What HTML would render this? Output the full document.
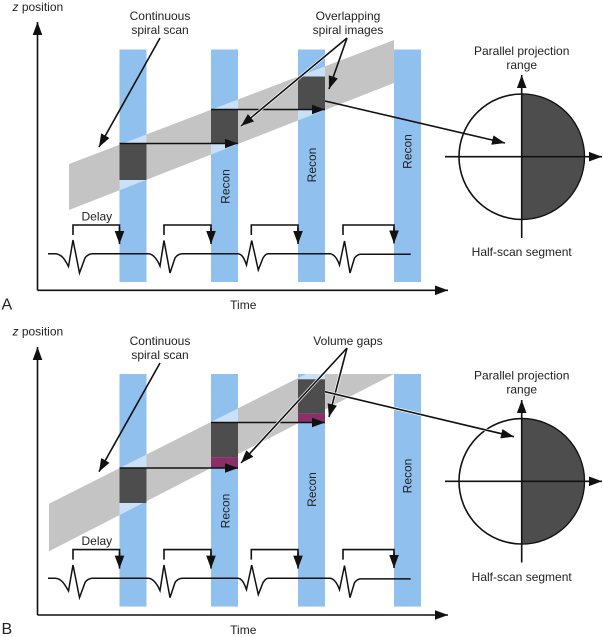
<!DOCTYPE html>
<html><head><meta charset="utf-8"><style>
html,body{margin:0;padding:0;background:#fff}
svg{display:block}
text{font-family:"Liberation Sans",sans-serif;font-size:12px;fill:#222}
.m{text-anchor:middle}
.l{fill:none;stroke:#111;stroke-width:1.6}
.h{fill:none;stroke:#fff;stroke-width:3}
.a{fill:none;stroke:#111;stroke-width:1.6;marker-end:url(#ar)}
.bar{fill:#8fc0ee}
.ecg{fill:none;stroke:#111;stroke-width:1.5;stroke-linejoin:miter}
</style></head><body>
<svg xmlns="http://www.w3.org/2000/svg" width="603" height="637" viewBox="0 0 603 637">
<defs>
<marker id="ar" markerUnits="userSpaceOnUse" markerWidth="15" markerHeight="11" refX="13" refY="5.5" orient="auto"><path d="M0,0.7 L13,5.5 L0,10.3 Z" fill="#111"/></marker>
<clipPath id="bars"><rect x="119.5" y="0" width="27" height="637"/><rect x="211" y="0" width="27" height="637"/><rect x="298" y="0" width="27" height="637"/><rect x="394" y="0" width="27" height="637"/></clipPath>
</defs>
<rect width="603" height="637" fill="#fff"/>

<!-- PANEL A -->
<polygon points="69,164 394,40 394,83 69,210" fill="#c4c4c4"/>
<rect class="bar" x="119.5" y="49.5" width="27" height="232.5"/>
<rect class="bar" x="211" y="49.5" width="27" height="232.5"/>
<rect class="bar" x="298" y="49.5" width="27" height="232.5"/>
<rect class="bar" x="394" y="49.5" width="27" height="232.5"/>
<polygon points="69,164 394,40 394,83 69,210" fill="#c9e0f7" clip-path="url(#bars)"/>
<rect x="119.5" y="143.5" width="27" height="36.5" fill="#4d4d4d"/>
<rect x="211" y="109.5" width="27" height="34" fill="#4d4d4d"/>
<rect x="298" y="76.5" width="27" height="33" fill="#4d4d4d"/>
<path class="a" d="M119.5,143.5 H238"/>
<path class="a" d="M211,109.5 H325"/>
<path class="a" d="M37.5,290.3 V22"/>
<path class="a" d="M37.5,290.3 H448"/>
<path class="h" d="M347,38 L241,126"/>
<path class="a" d="M160,38 L99,147"/>
<path class="a" d="M347,38 L241,126"/>
<path class="a" d="M347,38 L329,89"/>
<path class="ecg" d="M48,253.7 H55 C62,254 65,260 68.5,266.5 L73,240 L79.5,273 L85,258 C87,255 89,254 92,253.7 H148.5 C153,254 157,259 160,266 L164,240.5 L170,273 L175,258 C177,255 179,254 182,253.7 H238 C242,254 244,258 246.5,265 L251.7,240.5 L258.3,270 L263,258 C265,255 266,254 268,253.7 H330 C334,254 337,258 339.5,265 L344.5,241 L350,273 L354.5,258 C357,255 359,254 361,254.3 H410.7"/>
<path class="l" d="M73,235 V225 H119.5 V240"/>
<path class="a" d="M119.5,228 V244"/>
<path class="l" d="M164,235 V225 H211 V240"/>
<path class="a" d="M211,228 V244"/>
<path class="l" d="M251.3,235 V225 H298 V240"/>
<path class="a" d="M298,228 V244"/>
<path class="l" d="M343,235 V225 H394 V240"/>
<path class="a" d="M394,228 V243.5"/>
<circle cx="521.7" cy="156.7" r="62.7" fill="#fff" stroke="#111" stroke-width="1.6"/>
<path d="M521.7,94 A62.7,62.7 0 0 1 521.7,219.4 Z" fill="#4d4d4d" stroke="#111" stroke-width="1"/>
<path class="a" d="M521.7,238 V75"/>
<path class="a" d="M445,156.7 H602"/>
<path class="a" d="M325,101 L505,143"/>
<text x="12.5" y="11" font-style="italic">z<tspan font-style="normal"> position</tspan></text>
<text class="m" x="160" y="20">Continuous</text>
<text class="m" x="160" y="34">spiral scan</text>
<text class="m" x="348" y="20">Overlapping</text>
<text class="m" x="348" y="34">spiral images</text>
<text class="m" x="521.7" y="55">Parallel projection</text>
<text class="m" x="521.7" y="69">range</text>
<text class="m" x="521.7" y="256">Half-scan segment</text>
<text x="81.5" y="220.5">Delay</text>
<text class="m" x="243.3" y="309">Time</text>
<text x="1.5" y="309.5" style="font-size:16px">A</text>
<text class="m" transform="translate(229.3,186.5) rotate(-90)">Recon</text>
<text class="m" transform="translate(316,165) rotate(-90)">Recon</text>
<text class="m" transform="translate(411.5,151.5) rotate(-90)">Recon</text>

<!-- PANEL B -->
<polygon points="49,503.7 306,374 394,374 49,551.3" fill="#c4c4c4"/>
<rect class="bar" x="119.5" y="374" width="27" height="232.6"/>
<rect class="bar" x="211" y="374" width="27" height="232.6"/>
<rect class="bar" x="298" y="374" width="27" height="232.6"/>
<rect class="bar" x="394" y="374" width="27" height="232.6"/>
<polygon points="49,503.7 306,374 394,374 49,551.3" fill="#c9e0f7" clip-path="url(#bars)"/>
<rect x="119.5" y="467.7" width="27" height="35.3" fill="#4d4d4d"/>
<rect x="211" y="422" width="27" height="35.3" fill="#4d4d4d"/>
<rect x="211" y="457.3" width="27" height="10.4" fill="#8b2f68"/>
<rect x="298" y="379.3" width="27" height="34.4" fill="#4d4d4d"/>
<rect x="298" y="413.7" width="27" height="8.3" fill="#8b2f68"/>
<path class="a" d="M119.5,468 H238"/>
<path class="a" d="M211,422.5 H325"/>
<path class="a" d="M37.5,615 V347"/>
<path class="a" d="M37.5,615 H448"/>
<path class="h" d="M347,348 L241,463"/>
<path class="h" d="M347,348 L329,417"/>
<path class="a" d="M160,363 L99,471.7"/>
<path class="a" d="M347,348 L241,463"/>
<path class="a" d="M347,348 L329,417"/>
<path class="ecg" d="M48,578.3 H55 C62,578.6 65,585 68.5,591 L73,565 L79.5,597.6 L85,582.6 C87,579.6 89,578.6 92,578.3 H148.5 C153,578.6 157,584 160,590.6 L164,565 L170,597.6 L175,582.6 C177,579.6 179,578.6 182,578.3 H238 C242,578.6 244,583 246.5,589.6 L251.7,565 L258.3,594.6 L263,582.6 C265,579.6 266,578.6 268,578.3 H330 C334,578.6 337,583 339.5,589.6 L344.5,565.6 L350,597.6 L354.5,582.6 C357,579.6 359,578.6 361,578.9 H410.7"/>
<path class="l" d="M73,559.6 V549.6 H119.5 V565"/>
<path class="a" d="M119.5,552.6 V568.6"/>
<path class="l" d="M164,559.6 V549.6 H211 V565"/>
<path class="a" d="M211,552.6 V568.6"/>
<path class="l" d="M251.3,559.6 V549.6 H298 V565"/>
<path class="a" d="M298,552.6 V568.6"/>
<path class="l" d="M343,559.6 V549.6 H394 V565"/>
<path class="a" d="M394,552.6 V568"/>
<circle cx="521.7" cy="481.3" r="62.7" fill="#fff" stroke="#111" stroke-width="1.6"/>
<path d="M521.7,418.6 A62.7,62.7 0 0 1 521.7,544 Z" fill="#4d4d4d" stroke="#111" stroke-width="1"/>
<path class="a" d="M521.7,562.5 V400"/>
<path class="a" d="M445,481.3 H602"/>
<path class="h" d="M325,391.7 L514,436.7"/>
<path class="a" d="M325,391.7 L514,436.7"/>
<text x="12.5" y="335.5" font-style="italic">z<tspan font-style="normal"> position</tspan></text>
<text class="m" x="160" y="345">Continuous</text>
<text class="m" x="160" y="359">spiral scan</text>
<text class="m" x="348" y="345">Volume gaps</text>
<text class="m" x="521.7" y="379.5">Parallel projection</text>
<text class="m" x="521.7" y="393.5">range</text>
<text class="m" x="521.7" y="581">Half-scan segment</text>
<text x="81.5" y="545">Delay</text>
<text class="m" x="243.3" y="634">Time</text>
<text x="1.5" y="634" style="font-size:16px">B</text>
<text class="m" transform="translate(229.3,511) rotate(-90)">Recon</text>
<text class="m" transform="translate(316,489.5) rotate(-90)">Recon</text>
<text class="m" transform="translate(411.5,476) rotate(-90)">Recon</text>
</svg>
</body></html>
